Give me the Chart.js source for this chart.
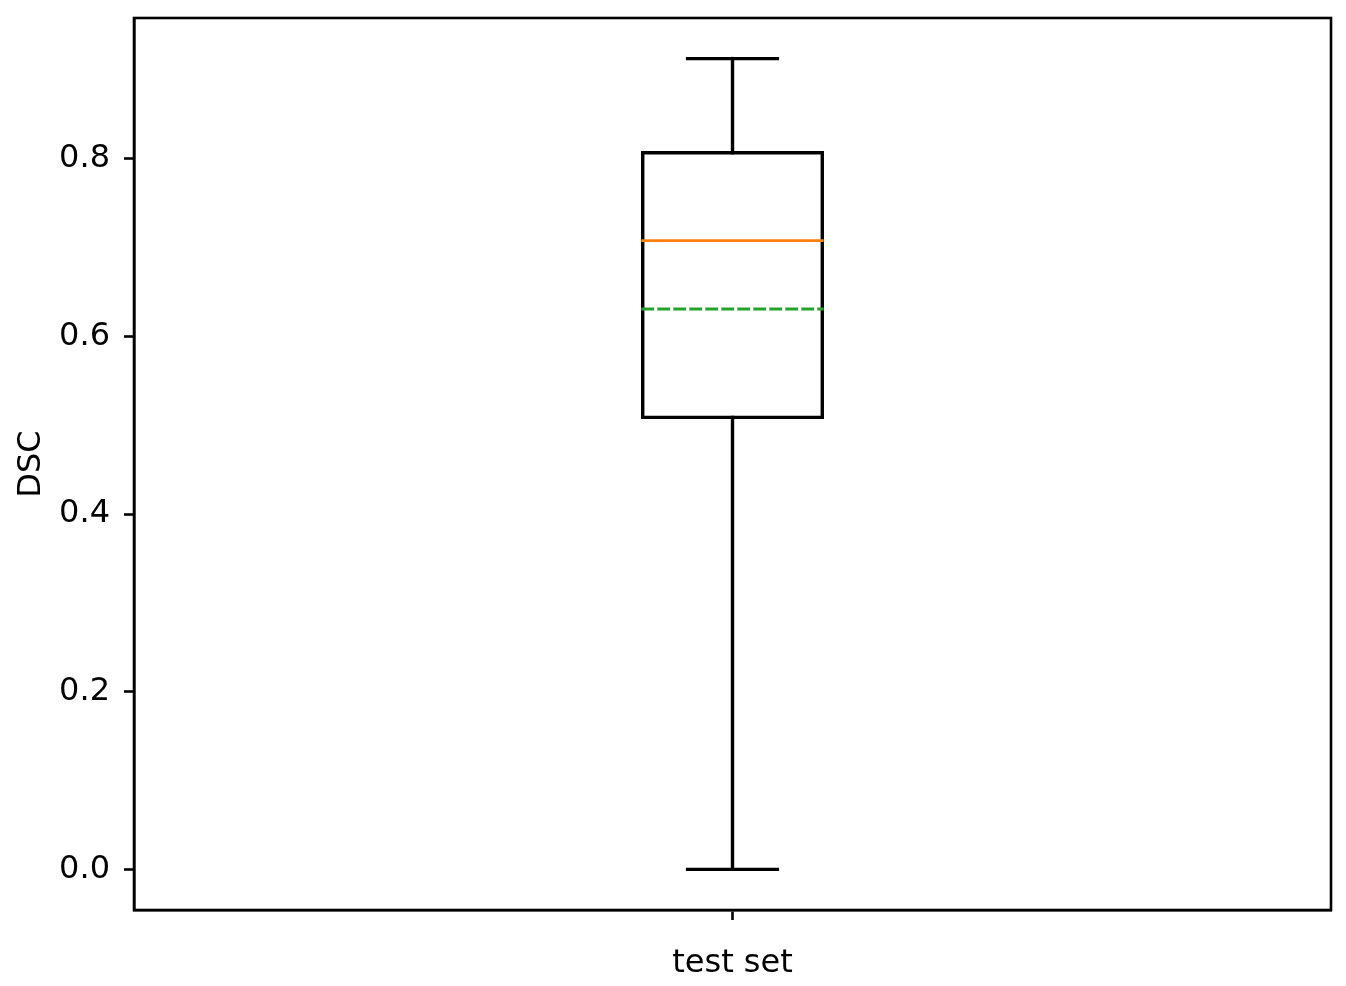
<!DOCTYPE html>
<html>
<head>
<meta charset="utf-8">
<script src="https://cdn.jsdelivr.net/npm/chart.js@4/dist/chart.umd.min.js"></script>
<style>
  html, body { margin: 0; padding: 0; background: #fff; }
  #wrap { width: 1346px; height: 986px; }
</style>
</head>
<body>
<div id="wrap"><canvas id="grafica"></canvas></div>
<script>
// Datos (estadisticos de la caja)
var categorias = ["test set"];
var bigoteInf = [0.0];
var cuartil1 = [0.509];
var mediana = [0.708];
var media = [0.631];
var cuartil3 = [0.807];
var bigoteSup = [0.913];
var ticksY = [0.0, 0.2, 0.4, 0.6, 0.8];

var ANCHO_CAJA = 0.15;
var ANCHO_TAPA = 0.075;

function segmento(x0, y0, x1, y1) {
    return [{ x: x0, y: y0 }, { x: x1, y: y1 }];
}

// Construir las series de lineas de cada caja
var datasets = [];
categorias.forEach(function(cat, i) {
    var x = i + 1;
    var hb = ANCHO_CAJA / 2, hc = ANCHO_TAPA / 2;
    datasets.push({ data: segmento(x - hb, mediana[i], x + hb, mediana[i]), borderColor: '#ff7f0e', borderWidth: 2.9, order: 0 });
    datasets.push({ data: segmento(x - hb, media[i], x + hb, media[i]), borderColor: '#2ca02c', borderWidth: 2.9, borderDash: [10, 6], order: 1 });
    datasets.push({
        data: [
            { x: x - hb, y: cuartil1[i] }, { x: x + hb, y: cuartil1[i] },
            { x: x + hb, y: cuartil3[i] }, { x: x - hb, y: cuartil3[i] },
            { x: x - hb, y: cuartil1[i] }
        ],
        borderColor: '#000', borderWidth: 3.4, order: 2
    });
    datasets.push({ data: segmento(x, bigoteInf[i], x, cuartil1[i]), borderColor: '#000', borderWidth: 3.4, order: 3 });
    datasets.push({ data: segmento(x, cuartil3[i], x, bigoteSup[i]), borderColor: '#000', borderWidth: 3.4, order: 3 });
    datasets.push({ data: segmento(x - hc, bigoteInf[i], x + hc, bigoteInf[i]), borderColor: '#000', borderWidth: 3.4, order: 3 });
    datasets.push({ data: segmento(x - hc, bigoteSup[i], x + hc, bigoteSup[i]), borderColor: '#000', borderWidth: 3.4, order: 3 });
});
datasets.forEach(function(d) {
    d.showLine = true;
    d.pointRadius = 0;
    d.fill = false;
    d.borderCapStyle = 'square';
});

// Marco completo del area de dibujo (estilo matplotlib)
var marco = {
    id: 'marco',
    afterDatasetsDraw: function(chart) {
        var a = chart.chartArea, ctx = chart.ctx;
        ctx.save();
        ctx.strokeStyle = '#000';
        ctx.lineWidth = 2.6;
        ctx.strokeRect(a.left, a.top, a.right - a.left, a.bottom - a.top);
        ctx.restore();
    }
};

var fuente = { family: 'DejaVu Sans', size: 32 };

new Chart(document.getElementById('grafica').getContext('2d'), {
    type: 'scatter',
    data: { datasets: datasets },
    options: {
        responsive: true,
        maintainAspectRatio: false,
        animation: false,
        layout: { padding: { top: 0, right: 15, left: 0, bottom: 0 } },
        plugins: { legend: { display: false }, tooltip: { enabled: false } },
        scales: {
            x: {
                type: 'linear',
                min: 0.5,
                max: 1.5,
                afterBuildTicks: function(s) {
                    s.ticks = categorias.map(function(c, i) { return { value: i + 1 }; });
                },
                afterFit: function(s) { s.height = 76; },
                ticks: {
                    color: '#000',
                    font: fuente,
                    padding: 24,
                    maxRotation: 0,
                    callback: function(v) { return categorias[Math.round(v) - 1] || ''; }
                },
                grid: { display: true, drawOnChartArea: false, drawTicks: true, tickLength: 10, tickWidth: 2.6, tickColor: '#000' },
                border: { display: true, color: '#000', width: 2.6 }
            },
            y: {
                type: 'linear',
                min: -0.0457,
                max: 0.9587,
                afterBuildTicks: function(s) {
                    s.ticks = ticksY.map(function(v) { return { value: v }; });
                },
                afterFit: function(s) { s.width = 134; s.paddingTop = 18; },
                ticks: {
                    color: '#000',
                    font: fuente,
                    padding: 14,
                    callback: function(v) { return Number(v).toFixed(1); }
                },
                title: { display: true, text: 'DSC', color: '#000', font: fuente, padding: { top: 12, bottom: 0 } },
                grid: { display: true, drawOnChartArea: false, drawTicks: true, tickLength: 10, tickWidth: 2.6, tickColor: '#000' },
                border: { display: true, color: '#000', width: 2.6 }
            }
        }
    },
    plugins: [marco]
});
</script>
</body>
</html>
